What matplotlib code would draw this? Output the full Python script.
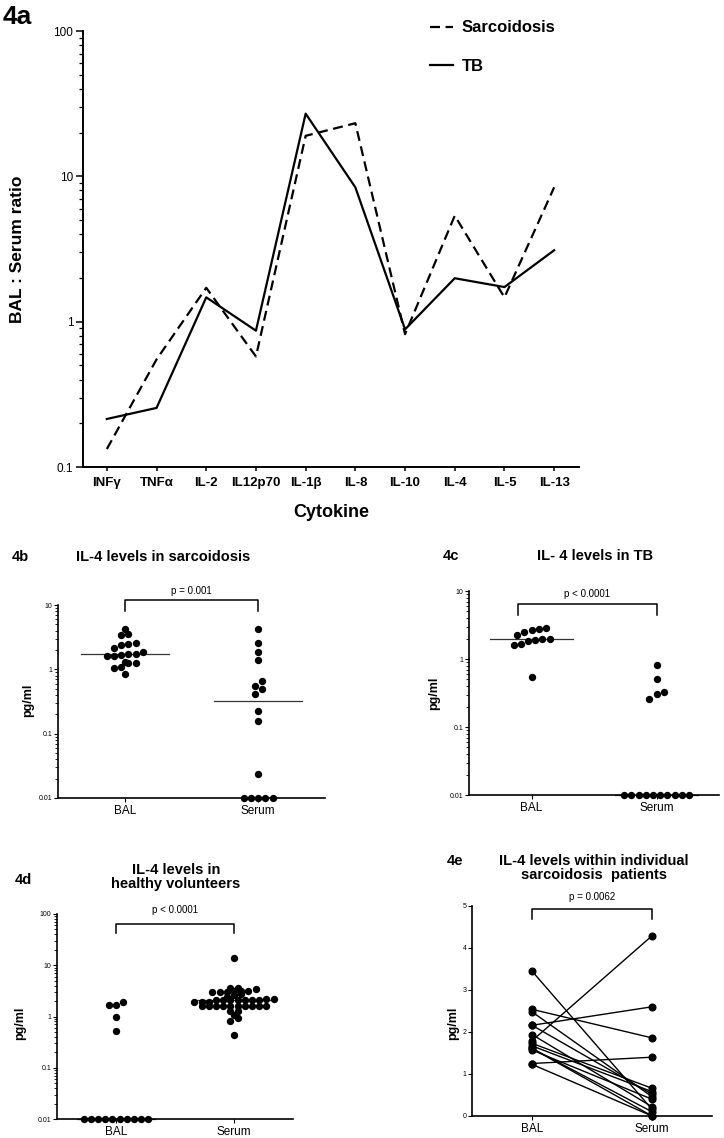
import numpy as np
import matplotlib
matplotlib.use("Agg")
from matplotlib import pyplot as plt
from matplotlib.ticker import NullFormatter, LogLocator

plt.rcParams['font.family'] = ['Liberation Sans', 'DejaVu Sans']

# 4a: BAL : serum ratio per cytokine
cytokines = ['INFγ', 'TNFα', 'IL-2', 'IL12p70', 'IL-1β', 'IL-8', 'IL-10', 'IL-4', 'IL-5', 'IL-13']
sarc_ratio = [0.133, 0.55, 1.71, 0.576, 19.0, 23.2, 0.82, 5.36, 1.47, 8.4]
tb_ratio = [0.214, 0.255, 1.47, 0.867, 27.0, 8.4, 0.885, 1.99, 1.73, 3.1]

groups = ['BAL', 'Serum']

# 4b: IL-4 in sarcoidosis (pg/ml)
sarc_bal = [4.2, 3.4, 3.6, 2.45, 2.35, 2.55, 2.15, 1.7, 1.85, 1.6, 1.75, 1.75,
            1.6, 1.25, 1.25, 1.3, 1.1, 1.05, 0.85]
sarc_serum = [4.2, 2.56, 1.83, 1.39, 0.656, 0.554, 0.49, 0.42, 0.229, 0.156,
              0.024, 0.01, 0.01, 0.01, 0.01, 0.01]

# 4c: IL-4 in TB
tb_bal = [2.87, 2.66, 2.24, 2.5, 2.8, 2.0, 1.89, 1.65, 1.6, 1.85, 2.0, 0.54]
tb_serum = [0.81, 0.51, 0.31, 0.33, 0.255, 0.01, 0.01, 0.01, 0.01, 0.01,
            0.01, 0.01, 0.01, 0.01, 0.01]

# 4d: IL-4 in healthy volunteers
hv_bal = [1.7, 1.7, 1.92, 1.0, 0.51, 0.01, 0.01, 0.01, 0.01, 0.01,
          0.01, 0.01, 0.01, 0.01, 0.01]
hv_serum = [13.8, 3.6, 3.6, 3.5, 3.1, 3.1, 3.1, 3.05, 3.05, 3.0, 2.8, 2.6, 2.4,
            2.15, 2.15, 2.1, 2.1, 2.1, 2.1, 2.1, 2.1, 2.1, 1.9, 1.92, 1.88,
            1.62, 1.62, 1.6, 1.6, 1.6, 1.6, 1.6, 1.6, 1.6, 1.6,
            1.3, 1.28, 1.05, 0.92, 0.82, 0.43]

# 4e: paired values within sarcoidosis patients
pair_bal = [3.45, 2.54, 2.48, 2.16, 2.16, 1.94, 1.79, 1.73, 1.67, 1.61, 1.57, 1.25, 1.23, 1.61]
pair_serum = [0.16, 1.86, 0.46, 2.6, 0.52, 0.22, 4.29, 0.66, 0.58, 0.0, 0.4, 1.4, 0.0, 0.1]

W, H = 724, 1138
fig = plt.figure(figsize=(W / 100, H / 100), dpi=100)


def rect(x0, y0, x1, y1):
    # pixel box (top-left origin) -> figure fraction
    return [x0 / W, 1 - y1 / H, (x1 - x0) / W, (y1 - y0) / H]


def style_axes(ax, lw=1.3):
    for s in ['top', 'right']:
        ax.spines[s].set_visible(False)
    for s in ['left', 'bottom']:
        ax.spines[s].set_linewidth(lw)


def scatter_rows(ax, xc, vals, binh=6.0, gap=7.2):
    # group points into horizontal rows by pixel height, spread each row evenly
    vals = np.asarray(vals, float)
    ypix = ax.transData.transform(np.column_stack([np.full(len(vals), xc), vals]))[:, 1]
    ppu = ax.transData.transform((1, 1))[0] - ax.transData.transform((0, 1))[0]
    xs = np.full(len(vals), float(xc))
    order = np.argsort(ypix)
    rows, cur = [], [order[0]]
    for i in order[1:]:
        if ypix[i] - ypix[cur[0]] < binh:
            cur.append(i)
        else:
            rows.append(cur)
            cur = [i]
    rows.append(cur)
    for row in rows:
        n = len(row)
        for k, i in enumerate(row):
            xs[i] = xc + (k - (n - 1) / 2) * gap / ppu
    return xs


def sig_bracket(ax, x0, x1, ytop, yend, ytext, label):
    tr = ax.get_xaxis_transform()
    ax.plot([x0, x0, x1, x1], [yend, ytop, ytop, yend], color='black', lw=1.1,
            transform=tr, clip_on=False)
    ax.text((x0 + x1) / 2, ytext, label, transform=tr, ha='center', va='center', fontsize=7)


def log_yaxis(ax, lo, hi):
    ax.set_yscale('log')
    ax.set_ylim(lo, hi)
    ticks = [10.0 ** e for e in range(int(np.log10(lo)), int(np.log10(hi)) + 1)]
    labels = [('%g' % t) for t in ticks]
    ax.set_yticks(ticks, labels)
    ax.yaxis.set_minor_locator(LogLocator(base=10, subs=np.arange(2, 10)))
    ax.yaxis.set_minor_formatter(NullFormatter())


# ---------------- 4a ----------------
ax = fig.add_axes(rect(83, 31, 579, 467))
x = np.arange(len(cytokines))
ax.plot(x, sarc_ratio, color='black', lw=1.6, dashes=(4.5, 2.5), label='Sarcoidosis')
ax.plot(x, tb_ratio, color='black', lw=1.6, label='TB')
log_yaxis(ax, 0.1, 100)
ax.set_xlim(-0.48, len(cytokines) - 0.5)
ax.set_xticks(x, cytokines, fontsize=9.5, fontweight='bold')
ax.tick_params(axis='x', length=3, width=1.1, pad=4)
ax.tick_params(axis='y', which='major', labelsize=8.5, length=5, width=1.1, pad=2)
ax.tick_params(axis='y', which='minor', length=3, width=0.9)
style_axes(ax, 1.4)
ax.set_ylabel('BAL : Serum ratio', fontsize=12.5, fontweight='bold')
ax.yaxis.set_label_coords(-0.117, 0.5)
ax.set_xlabel('Cytokine', fontsize=13, fontweight='bold')
ax.xaxis.set_label_coords(0.5, -0.085)
fig.legend(loc='center left', bbox_to_anchor=(430 / W, 1 - 47 / H), frameon=False,
           prop={'size': 12, 'weight': 'bold'}, handlelength=1.4, handletextpad=0.5,
           labelspacing=1.4, borderpad=0, borderaxespad=0)
fig.text(3 / W, 1 - 17 / H, '4a', fontsize=19, fontweight='bold', va='center')


def dot_panel(box, bal, serum, lo, hi, binh):
    ax = fig.add_axes(rect(*box))
    ax.set_xlim(-0.5, 1.5)
    log_yaxis(ax, lo, hi)
    for xc, vals in zip([0, 1], [bal, serum]):
        xs = scatter_rows(ax, xc, vals, binh=binh)
        ax.scatter(xs, vals, s=28, color='black', linewidths=0, clip_on=False, zorder=3)
        ax.plot([xc - 0.33, xc + 0.33], [np.median(vals)] * 2, color='#333333',
                lw=0.9, zorder=2, clip_on=False)
    ax.set_xticks([0, 1], groups, fontsize=8.5)
    ax.tick_params(axis='x', length=3, width=0.8, pad=2)
    ax.tick_params(axis='y', which='major', labelsize=5, length=3, width=0.8, pad=1)
    ax.tick_params(axis='y', which='minor', length=2, width=0.6)
    style_axes(ax, 1.2)
    return ax


# ---------------- 4b ----------------
ax = dot_panel((58, 605, 325, 798), sarc_bal, sarc_serum, 0.01, 10, 5.0)
sig_bracket(ax, 0, 1, 1.026, 0.969, 1.073, 'p = 0.001')
fig.text(28 / W, 1 - 700 / H, 'pg/ml', rotation=90, fontsize=9, fontweight='bold',
         ha='center', va='center')
fig.text(12 / W, 1 - 557 / H, '4b', fontsize=10.5, fontweight='bold', va='center')
fig.text(163 / W, 1 - 557 / H, 'IL-4 levels in sarcoidosis', fontsize=10.5,
         fontweight='bold', ha='center', va='center')

# ---------------- 4c ----------------
ax = dot_panel((469, 591, 719, 795), tb_bal, tb_serum, 0.01, 10, 9.0)
sig_bracket(ax, -0.11, 1.0, 0.936, 0.882, 0.985, 'p < 0.0001')
fig.text(434 / W, 1 - 693 / H, 'pg/ml', rotation=90, fontsize=9, fontweight='bold',
         ha='center', va='center')
fig.text(443 / W, 1 - 556 / H, '4c', fontsize=10.5, fontweight='bold', va='center')
fig.text(595 / W, 1 - 556 / H, 'IL- 4 levels in TB', fontsize=10.5,
         fontweight='bold', ha='center', va='center')

# ---------------- 4d ----------------
ax = dot_panel((57, 914, 293, 1119), hv_bal, hv_serum, 0.01, 100, 3.5)
sig_bracket(ax, 0, 1, 0.951, 0.907, 1.02, 'p < 0.0001')
fig.text(20 / W, 1 - 1023 / H, 'pg/ml', rotation=90, fontsize=9, fontweight='bold',
         ha='center', va='center')
fig.text(15 / W, 1 - 880 / H, '4d', fontsize=10.5, fontweight='bold', va='center')
fig.text(176 / W, 1 - 877 / H, 'IL-4 levels in\nhealthy volunteers', fontsize=10.5,
         fontweight='bold', ha='center', va='center', linespacing=1.05)

# ---------------- 4e ----------------
ax = fig.add_axes(rect(472, 906, 712, 1116))
ax.set_xlim(-0.5, 1.5)
ax.set_ylim(0, 5)
for b, s in zip(pair_bal, pair_serum):
    ax.plot([0, 1], [b, s], color='black', lw=1.0, marker='o', markersize=4.8,
            clip_on=False)
ax.set_yticks(range(0, 6))
ax.set_xticks([0, 1], groups, fontsize=8.5)
ax.tick_params(axis='x', length=3, width=0.8, pad=2)
ax.tick_params(axis='y', labelsize=5, length=3, width=0.8, pad=1)
style_axes(ax, 1.2)
sig_bracket(ax, 0, 1, 0.986, 0.938, 1.043, 'p = 0.0062')
fig.text(453 / W, 1 - 1023 / H, 'pg/ml', rotation=90, fontsize=9, fontweight='bold',
         ha='center', va='center')
fig.text(447 / W, 1 - 861 / H, '4e', fontsize=10.5, fontweight='bold', va='center')
fig.text(594 / W, 1 - 868 / H, 'IL-4 levels within individual\nsarcoidosis  patients',
         fontsize=10.5, fontweight='bold', ha='center', va='center', linespacing=1.05)

fig.savefig('out.png', dpi=100)
